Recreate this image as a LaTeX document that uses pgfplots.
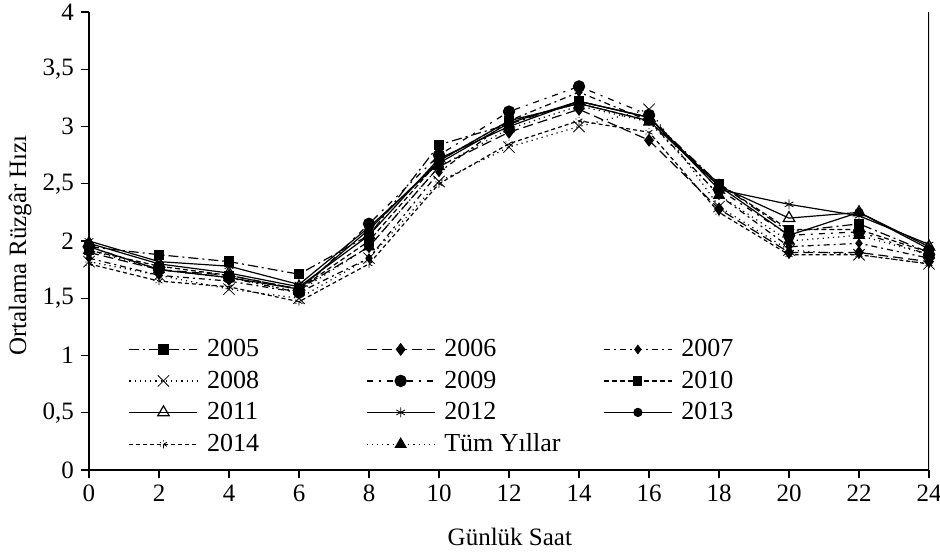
\documentclass[border=0pt]{standalone}
\usepackage{fontspec}
\setmainfont{Liberation Serif}
\usepackage{pgfplots}
\pgfplotsset{compat=1.18}
\newcommand{\legtext}[1]{\makebox[80pt][l]{\hspace{2.5pt}#1}}
\begin{document}
\begin{tikzpicture}
\useasboundingbox (-44.5pt,-43pt) rectangle (425.5pt,235pt);
\begin{axis}[
  at={(0,0)}, anchor=south west,
  scale only axis, width=420pt, height=229pt,
  xmin=0, xmax=24, ymin=0, ymax=4,
  xtick={0,2,...,24}, ytick={0,0.5,...,4},
  axis x line*=bottom, axis y line*=left,
  tick align=outside, major tick length=4pt,
  tick style={black, line width=0.6pt},
  axis line style={line width=0.6pt},
  /pgf/number format/.cd, use comma, assume math mode=true, /pgfplots/.cd,
  ticklabel style={font=\fontsize{12.5}{15}\selectfont},
  xlabel={Günlük Saat}, ylabel={Ortalama Rüzgâr Hızı},
  label style={font=\fontsize{12.5}{15}\selectfont},
  xlabel style={at={(axis description cs:0.501,-0.147)}, anchor=center},
  ylabel style={at={(axis description cs:-0.082,0.49)}, anchor=center},
  legend columns=3,
  legend cell align=left,
  legend style={draw=none, fill=none, at={(axis description cs:0.047,0.295)}, anchor=north west,
    font=\fontsize{13}{15.5}\selectfont, row sep=1.6pt, inner sep=0pt},
  legend image code/.code={\draw[mark repeat=2,mark phase=2] plot coordinates {(0pt,0pt) (17pt,0pt) (34pt,0pt)};},
  every axis plot/.append style={black, line width=0.6pt, mark options={solid}},
]
% 2005
\addplot[dash pattern=on 5pt off 2pt on 1pt off 2pt, mark=square*, mark size=2.3pt] coordinates {
(0,1.95)(2,1.88)(4,1.82)(6,1.71)(8,2.05)(10,2.84)(12,3.02)(14,3.22)(16,3.08)(18,2.50)(20,2.08)(22,2.15)(24,1.90)};
\addlegendentry{\legtext{2005}}
% 2006
\addplot[dash pattern=on 5pt off 2.5pt, mark=diamond*, mark size=2.8pt] coordinates {
(0,1.90)(2,1.75)(4,1.70)(6,1.58)(8,1.95)(10,2.65)(12,2.95)(14,3.15)(16,2.88)(18,2.28)(20,1.90)(22,1.90)(24,1.82)};
\addlegendentry{\legtext{2006}}
% 2007
\addplot[dash pattern=on 3pt off 2pt on 1pt off 2pt, mark=diamond*, mark size=2pt] coordinates {
(0,1.85)(2,1.70)(4,1.65)(6,1.55)(8,1.85)(10,2.60)(12,3.05)(14,3.30)(16,3.05)(18,2.40)(20,1.95)(22,1.98)(24,1.85)};
\addlegendentry{\legtext{2007}}
% 2008
\addplot[dotted, mark=x, mark size=4pt, mark options={solid, line width=0.4pt}] coordinates {
(0,1.82)(2,1.70)(4,1.58)(6,1.50)(8,1.85)(10,2.52)(12,2.82)(14,3.00)(16,3.15)(18,2.30)(20,1.92)(22,1.88)(24,1.80)};
\addlegendentry{\legtext{2008}}
% 2009
\addplot[dash pattern=on 3pt off 3pt on 1pt off 3pt, mark=*, mark size=2.8pt] coordinates {
(0,1.95)(2,1.75)(4,1.68)(6,1.55)(8,2.15)(10,2.75)(12,3.13)(14,3.35)(16,3.10)(18,2.45)(20,2.05)(22,2.08)(24,1.88)};
\addlegendentry{\legtext{2009}}
% 2010
\addplot[dash pattern=on 2.5pt off 1.5pt, mark=square*, mark size=2pt] coordinates {
(0,1.92)(2,1.78)(4,1.70)(6,1.58)(8,2.00)(10,2.70)(12,3.05)(14,3.20)(16,3.05)(18,2.50)(20,2.10)(22,2.10)(24,1.90)};
\addlegendentry{\legtext{2010}}
% 2011
\addplot[solid, mark=triangle, mark size=3.3pt] coordinates {
(0,1.98)(2,1.80)(4,1.72)(6,1.60)(8,2.05)(10,2.72)(12,3.00)(14,3.22)(16,3.08)(18,2.48)(20,2.20)(22,2.25)(24,1.95)};
\addlegendentry{\legtext{2011}}
% 2012
\addplot[solid, mark=asterisk, mark size=2.5pt, mark options={line width=0.4pt}] coordinates {
(0,2.00)(2,1.82)(4,1.78)(6,1.62)(8,2.12)(10,2.68)(12,3.03)(14,3.22)(16,3.08)(18,2.45)(20,2.32)(22,2.22)(24,1.97)};
\addlegendentry{\legtext{2012}}
% 2013
\addplot[solid, mark=*, mark size=2pt] coordinates {
(0,1.95)(2,1.75)(4,1.68)(6,1.58)(8,2.10)(10,2.70)(12,3.05)(14,3.20)(16,3.05)(18,2.48)(20,2.05)(22,2.25)(24,1.93)};
\addlegendentry{\legtext{2013}}
% 2014
\addplot[dash pattern=on 2pt off 1.5pt, mark=asterisk, mark size=2pt, mark options={line width=0.4pt}] coordinates {
(0,1.80)(2,1.65)(4,1.60)(6,1.47)(8,1.80)(10,2.50)(12,2.85)(14,3.05)(16,2.95)(18,2.25)(20,1.88)(22,1.88)(24,1.80)};
\addlegendentry{\legtext{2014}}
% Tum Yillar
\addplot[dotted, mark=triangle*, mark size=3pt] coordinates {
(0,1.92)(2,1.75)(4,1.68)(6,1.56)(8,1.95)(10,2.65)(12,2.98)(14,3.18)(16,3.04)(18,2.40)(20,2.00)(22,2.05)(24,1.88)};
\addlegendentry{\legtext{Tüm Yıllar}}
\draw[line width=0.6pt] (axis cs:24,0) -- (axis cs:24,4);
\end{axis}
\end{tikzpicture}
\end{document}
